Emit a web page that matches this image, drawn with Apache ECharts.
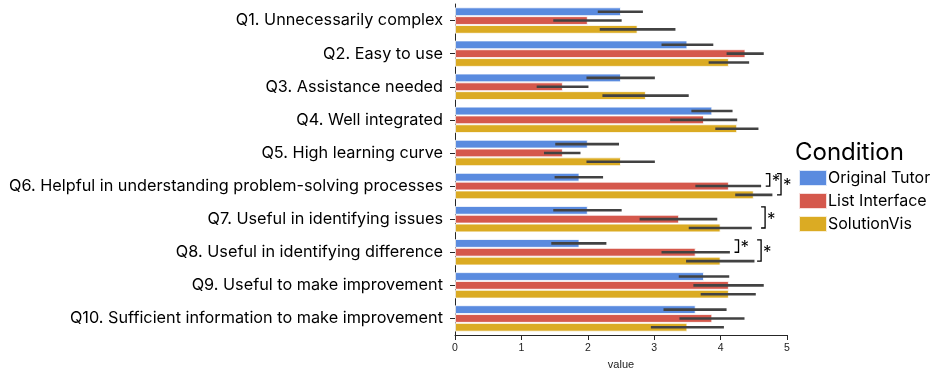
<!DOCTYPE html>
<html>
<head>
<meta charset="utf-8">
<script src="https://cdn.jsdelivr.net/npm/echarts@6/dist/echarts.min.js"></script>
<style>html,body{margin:0;padding:0;background:#fff}#c{width:933px;height:375px}</style>
</head>
<body>
<div id="c"></div>
<script>
const categories = [
  'Q1. Unnecessarily complex',
  'Q2. Easy to use',
  'Q3. Assistance needed',
  'Q4. Well integrated',
  'Q5. High learning curve',
  'Q6. Helpful in understanding problem-solving processes',
  'Q7. Useful in identifying issues',
  'Q8. Useful in identifying difference',
  'Q9. Useful to make improvement',
  'Q10. Sufficient information to make improvement'
];
const conditions = ['Original Tutor', 'List Interface', 'SolutionVis'];
const colors = ['#5A8BDF', '#D5584C', '#DBAB23'];

const originalTutor = [2.5, 3.5, 2.5, 3.875, 2.0, 1.875, 2.0, 1.875, 3.75, 3.625];
const listInterface = [2.0, 4.375, 1.625, 3.75, 1.625, 4.125, 3.375, 3.625, 4.125, 3.875];
const solutionVis = [2.75, 4.125, 2.875, 4.25, 2.5, 4.5, 4.0, 4.0, 4.125, 3.5];

const originalTutorCI = [[2.15,2.83],[3.11,3.89],[1.98,3.01],[3.56,4.18],[1.51,2.47],[1.50,2.23],[1.48,2.51],[1.45,2.28],[3.37,4.13],[3.14,4.09]];
const listInterfaceCI = [[1.48,2.51],[4.09,4.65],[1.23,2.01],[3.24,4.25],[1.34,1.89],[3.62,4.61],[2.78,3.95],[3.11,4.14],[3.59,4.65],[3.38,4.36]];
const solutionVisCI = [[2.18,3.32],[3.82,4.43],[2.22,3.52],[3.92,4.57],[1.98,3.01],[4.22,4.78],[3.52,4.47],[3.48,4.51],[3.70,4.53],[2.95,4.05]];

// [category index, from condition, to condition, bracket x value]
const significance = [[5,0,1,4.74],[5,0,2,4.91],[6,0,2,4.67],[7,0,1,4.27],[7,0,2,4.61]];

const xTicks = [0, 1, 2, 3, 4, 5];

const values = [originalTutor, listInterface, solutionVis];
const cis = [originalTutorCI, listInterfaceCI, solutionVisCI];

const chart = echarts.init(document.getElementById('c'), null, {renderer: 'canvas'});

function barOffset(api, k) {
  const band = api.size([0, 1])[1];
  const bw = band * 0.8 / 3;
  return (k - 1) * bw;
}

const series = [];
conditions.forEach((name, k) => {
  series.push({
    name: name,
    type: 'bar',
    data: values[k],
    barGap: '0%',
    barCategoryGap: '20%',
    itemStyle: {color: colors[k], borderColor: 'rgba(255,255,255,0.8)', borderWidth: 1},
    z: 2
  });
});
conditions.forEach((name, k) => {
  series.push({
    name: 'err' + k,
    type: 'custom',
    z: 5,
    silent: true,
    data: cis[k].map((c, i) => [i, c[0], c[1]]),
    encode: {x: [1, 2], y: 0},
    renderItem: function (params, api) {
      const cat = api.value(0);
      const p1 = api.coord([api.value(1), cat]);
      const p2 = api.coord([api.value(2), cat]);
      const off = barOffset(api, k);
      return {
        type: 'line',
        shape: {x1: p1[0], y1: p1[1] + off, x2: p2[0], y2: p2[1] + off},
        style: {stroke: '#424242', lineWidth: 2.6, lineCap: 'butt'}
      };
    }
  });
});
series.push({
  name: 'sig',
  type: 'custom',
  z: 6,
  silent: true,
  data: significance,
  encode: {x: 3, y: 0},
  renderItem: function (params, api) {
    const cat = api.value(0);
    const a = api.value(1), b = api.value(2);
    const p = api.coord([api.value(3), cat]);
    const y1 = p[1] + barOffset(api, a) - 3.5;
    const y2 = p[1] + barOffset(api, b);
    const x = p[0];
    return {
      type: 'group',
      children: [
        {type: 'polyline', shape: {points: [[x - 4, y1], [x, y1], [x, y2], [x - 4, y2]]},
         style: {stroke: '#000', lineWidth: 1.3, fill: null}},
        {type: 'text', style: {text: '*', x: x + 2, y: (y1 + y2) / 2 + 2, fill: '#000',
         font: '17px Inter', verticalAlign: 'middle', align: 'left'}}
      ]
    };
  }
});

chart.setOption({
  animation: false,
  backgroundColor: '#fff',
  title: {
    text: 'Condition', left: 795, top: 141, padding: 0,
    textStyle: {fontFamily: 'Inter', fontSize: 24, fontWeight: 'normal', color: '#000'}
  },
  legend: {
    data: conditions,
    orient: 'vertical', left: 798, top: 169,
    itemWidth: 28, itemHeight: 16, itemGap: 5, padding: 0,
    icon: 'rect',
    textStyle: {fontFamily: 'Inter', fontSize: 16, lineHeight: 16, color: '#000', padding: [0, 0, 0, -4]}
  },
  grid: {left: 455, right: 146, top: 4, bottom: 37.5, containLabel: false},
  xAxis: {
    type: 'value', min: 0, max: 5, interval: 1,
    name: 'value', nameLocation: 'middle', nameGap: 24,
    nameTextStyle: {fontFamily: 'Liberation Sans', fontSize: 11, color: '#222'},
    axisLine: {show: true, lineStyle: {color: '#262626', width: 1}},
    axisTick: {show: true, length: 5, lineStyle: {color: '#262626'}},
    axisLabel: {margin: 8, fontFamily: 'Liberation Sans', fontSize: 10.5, color: '#222',
      formatter: v => xTicks.includes(v) ? String(v) : ''},
    splitLine: {show: false}
  },
  yAxis: {
    type: 'category', data: categories, inverse: true,
    axisLine: {show: true, lineStyle: {color: '#262626', width: 1}},
    axisTick: {show: true, alignWithLabel: true, length: 5, lineStyle: {color: '#262626'}},
    axisLabel: {margin: 12, fontFamily: 'Inter', fontSize: 16.25, color: '#000'}
  },
  series: series
});
</script>
</body>
</html>
